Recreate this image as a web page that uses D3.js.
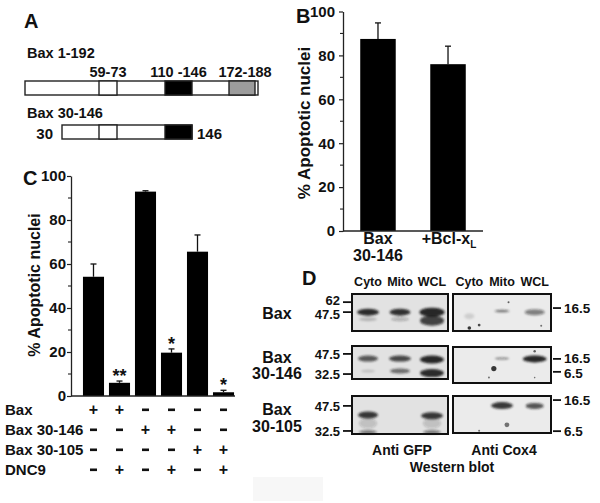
<!DOCTYPE html>
<html><head><meta charset="utf-8">
<script src="https://cdn.jsdelivr.net/npm/d3@7"></script>
<style>
body{margin:0;background:#fff}
svg{display:block}
text{font-family:"Liberation Sans",Arial,Helvetica,sans-serif;font-weight:bold;fill:#111}
</style>
</head><body>
<svg id="fig" width="600" height="503"></svg>
<script>
// ---------- Panel A: constructs ----------
const constructNames = ["Bax 1-192", "Bax 30-146"];
const constructStarts = [1, 30];
const constructEnds = [192, 146];
const domainLabels = ["59-73", "110 -146", "172-188"];
const domainStarts = [59, 110, 172];
const domainEnds = [73, 146, 188];
const domainFills = ["#ffffff", "#000000", "#9c9c9c"];

// ---------- Panel B ----------
const bCategories = ["Bax 30-146", "+Bcl-xL"];
const bValues = [87.5, 76.0];
const bErrors = [7.3, 8.2];
const yTicks = [0, 20, 40, 60, 80, 100];
const yMinorTicks = [10, 30, 50, 70, 90];

// ---------- Panel C ----------
const cConditions = ["Bax", "Bax 30-146", "Bax 30-105", "DNC9"];
const cValues = [54.2, 6.0, 92.9, 19.7, 65.6, 1.7];
const cErrors = [5.8, 0.8, 0.4, 1.7, 7.6, 0.9];
const cSignif = ["", "**", "", "*", "", "*"];
const cMatrix = [
  ["+", "+", "-", "-", "-", "-"],
  ["-", "-", "+", "+", "-", "-"],
  ["-", "-", "-", "-", "+", "+"],
  ["-", "+", "-", "+", "-", "+"]
];

// ---------- Panel D: western blots ----------
const blotLanes = ["Cyto", "Mito", "WCL"];
const blotRows = [["Bax"], ["Bax", "30-146"], ["Bax", "30-105"]];
const blotAntibodies = ["Anti GFP", "Anti Cox4"];
const gfpMarkers = [["62", "47.5"], ["47.5", "32.5"], ["47.5", "32.5"]];
const gfpMarkerLevels = [[0.22, 0.49], [0.24, 0.85], [0.26, 0.92]];
const coxMarkers = [["16.5"], ["16.5", "6.5"], ["16.5", "6.5"]];
const coxMarkerLevels = [[0.38], [0.33, 0.69], [0.11, 0.95]];
// band: row, blot (0 GFP / 1 Cox4), lane, level (fraction of blot height), width, height, intensity
const bands = [
  {row:0, blot:0, lane:"Cyto", level:0.49, w:22, h:7, k:0.9},
  {row:0, blot:0, lane:"Mito", level:0.49, w:21, h:7, k:0.88},
  {row:0, blot:0, lane:"WCL",  level:0.49, w:25, h:9, k:0.95},
  {row:0, blot:0, lane:"WCL",  level:0.72, w:24, h:10, k:0.8},
  {row:0, blot:0, lane:"Cyto", level:0.68, w:18, h:4, k:0.2},
  {row:0, blot:0, lane:"Mito", level:0.68, w:18, h:4, k:0.25},
  {row:0, blot:1, lane:"Mito", level:0.46, w:15, h:2.5, k:0.6},
  {row:0, blot:1, lane:"WCL",  level:0.49, w:20, h:6, k:0.5},
  {row:0, blot:1, lane:"Cyto", level:0.6, w:10, h:6, k:0.12},
  {row:1, blot:0, lane:"Cyto", level:0.38, w:20, h:6, k:0.7},
  {row:1, blot:0, lane:"Mito", level:0.38, w:22, h:6, k:0.78},
  {row:1, blot:0, lane:"WCL",  level:0.41, w:24, h:8, k:0.92},
  {row:1, blot:0, lane:"Cyto", level:0.76, w:14, h:3, k:0.15},
  {row:1, blot:0, lane:"Mito", level:0.76, w:20, h:5, k:0.6},
  {row:1, blot:0, lane:"WCL",  level:0.82, w:24, h:8, k:0.9},
  {row:1, blot:1, lane:"Mito", level:0.32, w:14, h:2, k:0.5},
  {row:1, blot:1, lane:"WCL",  level:0.33, w:24, h:7, k:0.95},
  {row:2, blot:0, lane:"Cyto", level:0.5, w:20, h:7, k:0.85},
  {row:2, blot:0, lane:"WCL",  level:0.52, w:22, h:7, k:0.85},
  {row:2, blot:0, lane:"Cyto", level:0.72, w:18, h:10, k:0.18},
  {row:2, blot:0, lane:"WCL",  level:0.72, w:18, h:10, k:0.18},
  {row:2, blot:0, lane:"Cyto", level:0.95, w:18, h:4, k:0.5},
  {row:2, blot:0, lane:"WCL",  level:0.95, w:18, h:4, k:0.5},
  {row:2, blot:1, lane:"Mito", level:0.26, w:22, h:7, k:0.85},
  {row:2, blot:1, lane:"WCL",  level:0.27, w:18, h:6, k:0.72}
];
// specks: row, blot, lane, offset (fraction of lane step), level, radius, intensity
const specks = [
  {row:0, blot:1, lane:"Cyto", dx:0.0, level:0.92, r:1.8, k:0.9},
  {row:0, blot:1, lane:"Cyto", dx:0.3, level:0.84, r:1.4, k:0.8},
  {row:0, blot:1, lane:"Mito", dx:0.2, level:0.22, r:1.0, k:0.7},
  {row:0, blot:1, lane:"WCL", dx:0.2, level:0.86, r:1.0, k:0.6},
  {row:1, blot:1, lane:"Mito", dx:-0.25, level:0.6, r:2.6, k:0.9},
  {row:1, blot:1, lane:"Mito", dx:-0.4, level:0.85, r:1.0, k:0.6},
  {row:1, blot:1, lane:"WCL", dx:0.0, level:0.12, r:1.2, k:0.7},
  {row:1, blot:1, lane:"WCL", dx:0.0, level:0.85, r:0.8, k:0.6},
  {row:2, blot:1, lane:"Mito", dx:0.15, level:0.78, r:2.4, k:0.6},
  {row:2, blot:1, lane:"Cyto", dx:0.3, level:0.94, r:1.0, k:0.6}
];

// ================= drawing =================
const FONT = '"Liberation Sans", Arial, Helvetica, sans-serif';
const svg = d3.select("#fig");
svg.append("rect").attr("width", 600).attr("height", 503).attr("fill", "#fff");
svg.append("rect").attr("x", 253).attr("y", 477).attr("width", 70).attr("height", 24).attr("fill", "#f7f7f7");

const defs = svg.append("defs");
defs.append("filter").attr("id", "blur").attr("x", "-60%").attr("y", "-150%").attr("width", "220%").attr("height", "400%")
  .append("feGaussianBlur").attr("stdDeviation", 1.3);

function letter(t, x, y) {
  svg.append("text").attr("x", x).attr("y", y).attr("font-size", 20).text(t);
}
function label(x, y, s, size, anchor) {
  return svg.append("text").attr("x", x).attr("y", y).attr("font-size", size)
    .attr("text-anchor", anchor || "start").text(s);
}

// ---------- Panel A ----------
letter("A", 24, 28);
const xA = d3.scaleLinear()
  .domain([1, 30, 59, 73, 110, 146, 172, 188, 192])
  .range([25, 62, 99, 117, 165, 192, 229, 255, 258]);
const aRowY = [81, 125];
const aBarH = 14;
const aNameY = [58, 118];
constructNames.forEach((name, i) => {
  const g = svg.append("g");
  g.append("text").attr("x", 27).attr("y", aNameY[i]).attr("font-size", 14.5).text(name);
  g.append("rect").attr("x", xA(constructStarts[i])).attr("y", aRowY[i])
    .attr("width", xA(constructEnds[i]) - xA(constructStarts[i])).attr("height", aBarH)
    .attr("fill", "#fff").attr("stroke", "#222").attr("stroke-width", 1.4);
  domainStarts.forEach((s, j) => {
    if (domainEnds[j] > constructEnds[i]) return;
    g.append("rect").attr("x", xA(s)).attr("y", aRowY[i])
      .attr("width", xA(domainEnds[j]) - xA(s)).attr("height", aBarH)
      .attr("fill", domainFills[j]).attr("stroke", "#222").attr("stroke-width", 1.4);
    if (i === 0) {
      g.append("text").attr("x", (xA(s) + xA(domainEnds[j])) / 2 + (j === 2 ? 3 : 0)).attr("y", 77)
        .attr("text-anchor", "middle").attr("font-size", 14.5).text(domainLabels[j]);
    }
  });
  if (i === 1) {
    g.append("text").attr("x", xA(constructStarts[i]) - 9).attr("y", 139).attr("text-anchor", "end")
      .attr("font-size", 15).text(String(constructStarts[i]));
    g.append("text").attr("x", xA(constructEnds[i]) + 5).attr("y", 139)
      .attr("font-size", 15).text(String(constructEnds[i]));
  }
});

// ---------- helper: axis ----------
function drawYAxis(g, y, pad) {
  g.call(d3.axisLeft(y).tickValues(yTicks).tickSize(4).tickPadding(pad).tickSizeOuter(0));
  g.attr("font-family", FONT).attr("font-size", 15).attr("font-weight", "bold");
  g.select(".domain").attr("stroke", "#222").attr("stroke-width", 1.3);
  g.selectAll(".tick line").attr("stroke", "#222").attr("stroke-width", 1.2);
  g.selectAll(".tick text").attr("fill", "#111");
  g.selectAll(".minor").data(yMinorTicks).join("line").attr("class", "minor")
    .attr("x1", -3).attr("x2", 0).attr("y1", d => y(d)).attr("y2", d => y(d))
    .attr("stroke", "#222").attr("stroke-width", 1.1);
}
function errBar(g, cx, y0, y1) {
  g.append("line").attr("x1", cx).attr("x2", cx).attr("y1", y0).attr("y2", y1)
    .attr("stroke", "#111").attr("stroke-width", 1.3);
  g.append("line").attr("x1", cx - 3).attr("x2", cx + 3).attr("y1", y1).attr("y2", y1)
    .attr("stroke", "#111").attr("stroke-width", 1.3);
}

// ---------- Panel B ----------
letter("B", 296, 23);
const yB = d3.scaleLinear().domain([0, 100]).range([231, 11.5]);
const xB = d3.scaleBand().domain(bCategories).range([343, 483]).paddingInner(0.493).paddingOuter(0.246);
const gB = svg.append("g");
bCategories.forEach((c, i) => {
  gB.append("rect").attr("x", xB(c)).attr("y", yB(bValues[i])).attr("width", xB.bandwidth())
    .attr("height", yB(0) - yB(bValues[i])).attr("fill", "#000");
  errBar(gB, xB(c) + xB.bandwidth() / 2, yB(bValues[i]), yB(bValues[i] + bErrors[i]));
});
gB.append("line").attr("x1", 343).attr("x2", 483).attr("y1", yB(0)).attr("y2", yB(0))
  .attr("stroke", "#222").attr("stroke-width", 1.3);
drawYAxis(svg.append("g").attr("transform", "translate(343,0)"), yB, 4);
svg.append("text").attr("transform", `translate(310,${123}) rotate(-90)`).attr("text-anchor", "middle")
  .attr("font-size", 17).text("% Apoptotic nuclei");
{
  const c0 = xB(bCategories[0]) + xB.bandwidth() / 2;
  label(c0, 244, "Bax", 16, "middle");
  label(c0, 261, "30-146", 16, "middle");
  const c1 = xB(bCategories[1]) + xB.bandwidth() / 2;
  const t = svg.append("text").attr("x", c1 + 1).attr("y", 244).attr("text-anchor", "middle").attr("font-size", 16);
  t.append("tspan").text("+Bcl-x");
  t.append("tspan").attr("font-size", 10).attr("dy", 4).text("L");
}

// ---------- Panel C ----------
letter("C", 23, 185);
const yC = d3.scaleLinear().domain([0, 100]).range([396, 176]);
const xC = d3.scaleBand().domain(d3.range(cValues.length)).range([71, 246]).paddingInner(0.19).paddingOuter(0.46);
const gC = svg.append("g");
cValues.forEach((v, i) => {
  gC.append("rect").attr("x", xC(i)).attr("y", yC(v)).attr("width", xC.bandwidth())
    .attr("height", yC(0) - yC(v)).attr("fill", "#000");
  const cx = xC(i) + xC.bandwidth() / 2;
  errBar(gC, cx, yC(v), yC(v + cErrors[i]));
  if (cSignif[i]) {
    gC.append("text").attr("x", cx).attr("y", yC(v + cErrors[i]) + 1).attr("text-anchor", "middle")
      .attr("font-size", 18).attr("font-weight", "normal").text(cSignif[i]);
  }
});
gC.append("line").attr("x1", 71).attr("x2", xC(cValues.length - 1) + xC.bandwidth() + 1)
  .attr("y1", yC(0)).attr("y2", yC(0)).attr("stroke", "#222").attr("stroke-width", 1.3);
drawYAxis(svg.append("g").attr("transform", "translate(71,0)"), yC, 1);
svg.append("text").attr("transform", `translate(40,285) rotate(-90)`).attr("text-anchor", "middle")
  .attr("font-size", 16).text("% Apoptotic nuclei");
const rowBase = [415, 435, 455, 475];
cConditions.forEach((c, r) => {
  svg.append("text").attr("x", 5).attr("y", rowBase[r]).attr("font-size", 15).text(c);
  cMatrix[r].forEach((s, i) => {
    const cx = xC(i) + xC.bandwidth() / 2;
    if (s === "+") {
      svg.append("text").attr("x", cx).attr("y", rowBase[r]).attr("text-anchor", "middle")
        .attr("font-size", 16).text("+");
    } else {
      svg.append("rect").attr("x", cx - 3.5).attr("y", rowBase[r] - 6.5).attr("width", 7).attr("height", 2.6)
        .attr("fill", "#111");
    }
  });
});

// ---------- Panel D ----------
letter("D", 302, 285);
const blotX = [[352, 448], [453, 551]];
const blotTop = [[294, 294], [346, 347], [396, 396]];
const blotH = [[37, 37], [33, 36], [38, 37]];
const blotFill = ["#e2e2e2", "#ebebeb"];
const laneScale = blotX.map(r => d3.scaleBand().domain(blotLanes).range(r));
const laneC = (b, l) => laneScale[b](l) + laneScale[b].bandwidth() / 2;

// headers
[0, 1].forEach(b => blotLanes.forEach(l => {
  label(laneC(b, l), 286, l, 12.5, "middle");
}));

blotRows.forEach((lbl, r) => {
  const cy = blotTop[r][0] + blotH[r][0] / 2;
  if (lbl.length === 1) {
    label(277, cy + 6, lbl[0], 16, "middle");
  } else {
    label(277, cy, lbl[0], 16, "middle");
    label(277, cy + 16.5, lbl[1], 16, "middle");
  }
  [0, 1].forEach(b => {
    const x0 = blotX[b][0], x1 = blotX[b][1], y0 = blotTop[r][b], h = blotH[r][b];
    const g = svg.append("g");
    g.append("rect").attr("x", x0).attr("y", y0).attr("width", x1 - x0).attr("height", h)
      .attr("fill", blotFill[b]);
    const bg = g.append("g").attr("filter", "url(#blur)");
    bands.filter(d => d.row === r && d.blot === b).forEach(d => {
      bg.append("ellipse").attr("cx", laneC(b, d.lane)).attr("cy", y0 + d.level * h)
        .attr("rx", d.w / 2).attr("ry", d.h / 2).attr("fill", "#1a1a1a").attr("opacity", d.k);
    });
    specks.filter(d => d.row === r && d.blot === b).forEach(d => {
      g.append("circle").attr("cx", laneC(b, d.lane) + d.dx * laneScale[b].step()).attr("cy", y0 + d.level * h)
        .attr("r", d.r).attr("fill", "#222").attr("opacity", d.k);
    });
    g.append("rect").attr("x", x0).attr("y", y0).attr("width", x1 - x0).attr("height", h)
      .attr("fill", "none").attr("stroke", "#111").attr("stroke-width", 2);
    // markers: dashes at levels, labels spread apart so they never collide
    const labs = b === 0 ? gfpMarkers[r] : coxMarkers[r];
    const lev = b === 0 ? gfpMarkerLevels[r] : coxMarkerLevels[r];
    const size = b === 0 ? 13 : 13.5;
    const ys = lev.map(l => y0 + l * h);
    const ty = ys.map(y => y + 5);
    if (ty.length === 2 && ty[1] - ty[0] < size + 1) {
      const need = size + 1 - (ty[1] - ty[0]);
      ty[0] -= need / 2; ty[1] += need / 2;
    }
    ys.forEach((y, k) => {
      if (b === 0) {
        svg.append("line").attr("x1", x0 - 9).attr("x2", x0 - 1).attr("y1", y).attr("y2", y)
          .attr("stroke", "#111").attr("stroke-width", 1.8);
        label(x0 - 12, ty[k], labs[k], size, "end");
      } else {
        svg.append("line").attr("x1", x1 + 2).attr("x2", x1 + 10).attr("y1", y).attr("y2", y)
          .attr("stroke", "#111").attr("stroke-width", 1.8);
        label(x1 + 13, ty[k], labs[k], size, "start");
      }
    });
  });
});
blotAntibodies.forEach((a, b) => {
  label((blotX[b][0] + blotX[b][1]) / 2 + 2, 455, a, 14, "middle");
});
label(452, 472, "Western blot", 14, "middle");
</script>
</body></html>
